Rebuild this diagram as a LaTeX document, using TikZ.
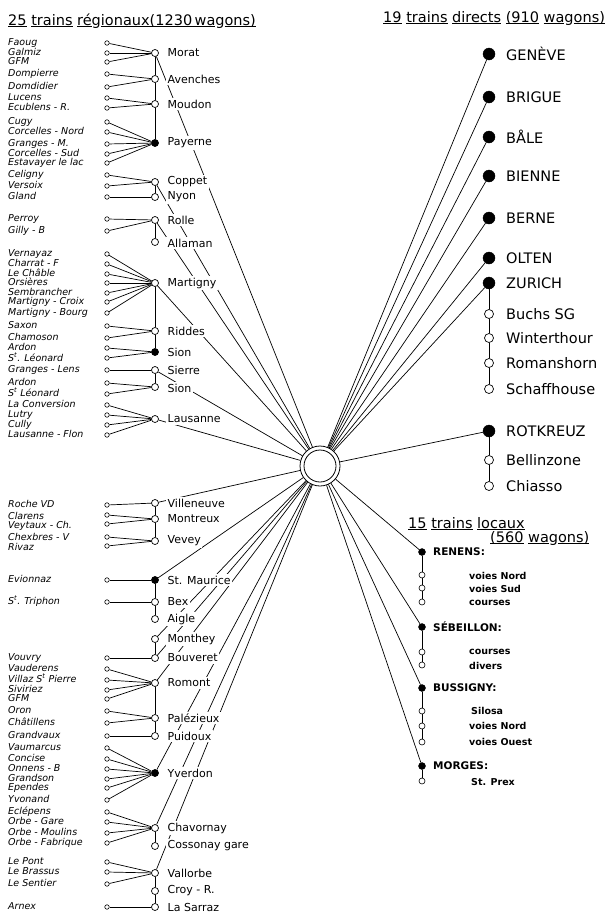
\documentclass[tikz,border=0pt]{standalone}
\usepackage{fontspec}
\setmainfont{DejaVu Sans}
\usetikzlibrary{backgrounds}
\newcommand{\undl}[1]{\underline{\smash{#1}}}
\newcommand{\saint}{S\smash{\textsuperscript{t}}}

\begin{document}
\begin{tikzpicture}
			[x=1pt,y=-1pt,every node/.style={inner sep=0pt},
			stn/.style={circle,draw,fill=white,minimum size=4.5pt,line width=0.6pt},
			hub/.style={circle,draw,fill=white,minimum size=7pt,line width=0.7pt},
			hubf/.style={hub,fill=black},
			dir/.style={circle,draw,fill=black,minimum size=12pt},
			diro/.style={circle,draw,fill=white,minimum size=9pt,line width=0.7pt},
			loc/.style={circle,draw,fill=black,minimum size=7pt},
			loco/.style={circle,draw,fill=white,minimum size=6pt,line width=0.6pt},
			lbl/.style={anchor=west,text height=6pt,text depth=1.5pt,font=\fontsize{9.5}{10}\selectfont\itshape},
			town/.style={anchor=west,fill=white,inner sep=1.5pt,font=\fontsize{11}{12}\selectfont},
			city/.style={anchor=west,font=\fontsize{14.5}{15}\selectfont},
			lname/.style={anchor=west,font=\fontsize{10.5}{11}\selectfont\bfseries},
			lsub/.style={anchor=west,font=\fontsize{9.5}{10}\selectfont\bfseries},
			head/.style={anchor=base west,font=\fontsize{14.5}{15}\selectfont},
			edge/.style={line width=0.7pt}]
			\useasboundingbox (0,0) rectangle (605,916);
			
			% titles
			\node[head] (tregio) at (8,25) {\undl{25} \undl{trains} \undl{ré}g\undl{ionaux(1230\,wa}g\undl{ons)}};
			\node[head] (tdirect) at (383,22) {\undl{19} \undl{trains} \undl{directs} \undl{(910} \undl{wa}g\undl{ons)}};
			\node[head] (tlocal) at (408,528) {\undl{15} \undl{trains} \undl{locaux}};
			\node[head] (tlocalw) at (490,542) {\undl{(560} \undl{wa}g\undl{ons)}};
			
			% centre
			\node[circle,draw,fill=white,minimum size=40pt,line width=0.8pt] (ctr) at (320,466) {};
			\node[circle,draw,minimum size=32pt,line width=0.8pt] (ctri) at (320,466) {};
			
			% trains regionaux, nord
			\node[hub] (morat) at (155,53) {};
			\node[hub] (avenches) at (155,79) {};
			\node[hub] (moudon) at (155,104) {};
			\node[hubf] (payerne) at (155,143) {};
			\node[hub] (coppet) at (155,182) {};
			\node[hub] (nyon) at (155,197) {};
			\node[hub] (rolle) at (155,220) {};
			\node[hub] (allaman) at (155,242) {};
			\node[hub] (martigny) at (155,283) {};
			\node[hub] (riddes) at (155,331) {};
			\node[hubf] (sion) at (155,352) {};
			\node[hub] (sierre) at (155,370) {};
			\node[hub] (sionb) at (155,387) {};
			\node[hub] (lausanne) at (155,419) {};
			
			\node[town] (morat-t) at (166,53) {Morat};
			\node[town] (avenches-t) at (166,79) {Avenches};
			\node[town] (moudon-t) at (166,104) {Moudon};
			\node[town] (payerne-t) at (166,143) {Payerne};
			\node[town] (coppet-t) at (166,182) {Coppet};
			\node[town] (nyon-t) at (166,197) {Nyon};
			\node[town] (rolle-t) at (166,220) {Rolle};
			\node[town] (allaman-t) at (166,243) {Allaman};
			\node[town] (martigny-t) at (166,283) {Martigny};
			\node[town] (riddes-t) at (166,331) {Riddes};
			\node[town] (sion-t) at (166,352) {Sion};
			\node[town] (sierre-t) at (166,370) {Sierre};
			\node[town] (sionb-t) at (166,388) {Sion};
			\node[town] (lausanne-t) at (166,419) {Lausanne};
			
			\node[stn] (faoug) at (107,43) {}; \node[lbl] (faoug-t) at (8,43) {Faoug};
			\node[stn] (galmiz) at (107,53) {}; \node[lbl] (galmiz-t) at (8,53) {Galmiz};
			\node[stn] (gfm) at (107,62) {}; \node[lbl] (gfm-t) at (8,62) {GFM};
			\node[stn] (dompierre) at (107,74) {}; \node[lbl] (dompierre-t) at (8,74) {Dompierre};
			\node[stn] (domdidier) at (107,87) {}; \node[lbl] (domdidier-t) at (8,87) {Domdidier};
			\node[stn] (lucens) at (107,98) {}; \node[lbl] (lucens-t) at (8,98) {Lucens};
			\node[stn] (ecublens) at (107,108) {}; \node[lbl] (ecublens-t) at (8,108) {Ecublens - R.};
			\node[stn] (cugy) at (107,122) {}; \node[lbl] (cugy-t) at (8,122) {Cugy};
			\node[stn] (corcn) at (107,132) {}; \node[lbl] (corcn-t) at (8,132) {Corcelles - Nord};
			\node[stn] (grangesm) at (107,144) {}; \node[lbl] (grangesm-t) at (8,144) {Granges - M.};
			\node[stn] (corcs) at (107,154) {}; \node[lbl] (corcs-t) at (8,154) {Corcelles - Sud};
			\node[stn] (estavayer) at (107,163) {}; \node[lbl] (estavayer-t) at (8,163) {Estavayer le lac};
			\node[stn] (celigny) at (107,175) {}; \node[lbl] (celigny-t) at (8,175) {Celigny};
			\node[stn] (versoix) at (107,186) {}; \node[lbl] (versoix-t) at (8,186) {Versoix};
			\node[stn] (gland) at (107,197) {}; \node[lbl] (gland-t) at (8,197) {Gland};
			\node[stn] (perroy) at (107,219) {}; \node[lbl] (perroy-t) at (8,219) {Perroy};
			\node[stn] (gilly) at (107,231) {}; \node[lbl] (gilly-t) at (8,231) {Gilly - B};
			\node[stn] (vernayaz) at (107,254) {}; \node[lbl] (vernayaz-t) at (8,254) {Vernayaz};
			\node[stn] (charrat) at (107,264) {}; \node[lbl] (charrat-t) at (8,264) {Charrat - F};
			\node[stn] (chable) at (107,274) {}; \node[lbl] (chable-t) at (8,274) {Le Châble};
			\node[stn] (orsieres) at (107,283) {}; \node[lbl] (orsieres-t) at (8,283) {Orsières};
			\node[stn] (sembrancher) at (107,293) {}; \node[lbl] (sembrancher-t) at (8,293) {Sembrancher};
			\node[stn] (mcroix) at (107,302) {}; \node[lbl] (mcroix-t) at (8,302) {Martigny - Croix};
			\node[stn] (mbourg) at (107,313) {}; \node[lbl] (mbourg-t) at (8,313) {Martigny - Bourg};
			\node[stn] (saxon) at (107,326) {}; \node[lbl] (saxon-t) at (8,326) {Saxon};
			\node[stn] (chamoson) at (107,338) {}; \node[lbl] (chamoson-t) at (8,338) {Chamoson};
			\node[stn] (ardon) at (107,348) {}; \node[lbl] (ardon-t) at (8,348) {Ardon};
			\node[stn] (stleonard) at (107,358) {}; \node[lbl] (stleonard-t) at (8,359) {\saint. Léonard};
			\node[stn] (granges) at (107,370) {}; \node[lbl] (granges-t) at (8,370) {Granges - Lens};
			\node[stn] (ardonb) at (107,383) {}; \node[lbl] (ardonb-t) at (8,383) {Ardon};
			\node[stn] (stleonardb) at (107,394) {}; \node[lbl] (stleonardb-t) at (8,394) {\saint\ Léonard};
			\node[stn] (conversion) at (107,405) {}; \node[lbl] (conversion-t) at (8,405) {La Conversion};
			\node[stn] (lutry) at (107,415) {}; \node[lbl] (lutry-t) at (8,415) {Lutry};
			\node[stn] (cully) at (107,425) {}; \node[lbl] (cully-t) at (8,425) {Cully};
			\node[stn] (flon) at (107,435) {}; \node[lbl] (flon-t) at (8,435) {Lausanne - Flon};
			
			% trains regionaux, sud
			\node[hub] (villeneuve) at (155,503) {};
			\node[hub] (montreux) at (155,519) {};
			\node[hub] (vevey) at (155,541) {};
			\node[hubf] (stmaurice) at (155,580) {};
			\node[hub] (bex) at (155,602) {};
			\node[hub] (aigle) at (155,619) {};
			\node[hub] (monthey) at (155,639) {};
			\node[hub] (bouveret) at (155,658) {};
			\node[hub] (romont) at (155,683) {};
			\node[hub] (palezieux) at (155,718) {};
			\node[hub] (puidoux) at (155,736) {};
			\node[hubf] (yverdon) at (155,773) {};
			\node[hub] (chavornay) at (155,828) {};
			\node[hub] (cossonay) at (155,846) {};
			\node[hub] (vallorbe) at (155,873) {};
			\node[hub] (croy) at (155,891) {};
			\node[hub] (lasarraz) at (155,907) {};
			
			\node[town] (villeneuve-t) at (166,503) {Villeneuve};
			\node[town] (montreux-t) at (166,519) {Montreux};
			\node[town] (vevey-t) at (166,541) {Vevey};
			\node[town] (stmaurice-t) at (166,580) {St. Maurice};
			\node[town] (bex-t) at (166,602) {Bex};
			\node[town] (aigle-t) at (166,619) {Aigle};
			\node[town] (monthey-t) at (166,639) {Monthey};
			\node[town] (bouveret-t) at (166,658) {Bouveret};
			\node[town] (romont-t) at (166,683) {Romont};
			\node[town] (palezieux-t) at (166,718) {Palézieux};
			\node[town] (puidoux-t) at (166,736) {Puidoux};
			\node[town] (yverdon-t) at (166,773) {Yverdon};
			\node[town] (chavornay-t) at (166,828) {Chavornay};
			\node[town] (cossonay-t) at (166,846) {Cossonay gare};
			\node[town] (vallorbe-t) at (166,873) {Vallorbe};
			\node[town] (croy-t) at (166,891) {Croy - R.};
			\node[town] (lasarraz-t) at (166,907) {La Sarraz};
			
			\node[stn] (roche) at (107,505) {}; \node[lbl] (roche-t) at (8,505) {Roche VD};
			\node[stn] (clarens) at (107,515) {}; \node[lbl] (clarens-t) at (8,517) {Clarens};
			\node[stn] (veytaux) at (107,524) {}; \node[lbl] (veytaux-t) at (8,526) {Veytaux - Ch.};
			\node[stn] (chexbres) at (107,537) {}; \node[lbl] (chexbres-t) at (8,538) {Chexbres - V};
			\node[stn] (rivaz) at (107,546) {}; \node[lbl] (rivaz-t) at (8,548) {Rivaz};
			\node[stn] (evionnaz) at (107,580) {}; \node[lbl] (evionnaz-t) at (8,580) {Evionnaz};
			\node[stn] (triphon) at (107,602) {}; \node[lbl] (triphon-t) at (8,602) {\saint. Triphon};
			\node[stn] (vouvry) at (107,658) {}; \node[lbl] (vouvry-t) at (8,658) {Vouvry};
			\node[stn] (vauderens) at (107,669) {}; \node[lbl] (vauderens-t) at (8,669) {Vauderens};
			\node[stn] (villaz) at (107,680) {}; \node[lbl] (villaz-t) at (8,680) {Villaz \saint\ Pierre};
			\node[stn] (siviriez) at (107,690) {}; \node[lbl] (siviriez-t) at (8,690) {Siviriez};
			\node[stn] (gfmb) at (107,699) {}; \node[lbl] (gfmb-t) at (8,699) {GFM};
			\node[stn] (oron) at (107,711) {}; \node[lbl] (oron-t) at (8,711) {Oron};
			\node[stn] (chatillens) at (107,723) {}; \node[lbl] (chatillens-t) at (8,723) {Châtillens};
			\node[stn] (grandvaux) at (107,736) {}; \node[lbl] (grandvaux-t) at (8,736) {Grandvaux};
			\node[stn] (vaumarcus) at (107,748) {}; \node[lbl] (vaumarcus-t) at (8,748) {Vaumarcus};
			\node[stn] (concise) at (107,759) {}; \node[lbl] (concise-t) at (8,759) {Concise};
			\node[stn] (onnens) at (107,769) {}; \node[lbl] (onnens-t) at (8,769) {Onnens - B};
			\node[stn] (grandson) at (107,779) {}; \node[lbl] (grandson-t) at (8,779) {Grandson};
			\node[stn] (ependes) at (107,788) {}; \node[lbl] (ependes-t) at (8,788) {Ependes};
			\node[stn] (yvonand) at (107,800) {}; \node[lbl] (yvonand-t) at (8,800) {Yvonand};
			\node[stn] (eclepens) at (107,812) {}; \node[lbl] (eclepens-t) at (8,812) {Eclépens};
			\node[stn] (orbegare) at (107,822) {}; \node[lbl] (orbegare-t) at (8,822) {Orbe - Gare};
			\node[stn] (orbemoulins) at (107,833) {}; \node[lbl] (orbemoulins-t) at (8,833) {Orbe - Moulins};
			\node[stn] (orbefab) at (107,843) {}; \node[lbl] (orbefab-t) at (8,843) {Orbe - Fabrique};
			\node[stn] (lepont) at (107,862) {}; \node[lbl] (lepont-t) at (8,862) {Le Pont};
			\node[stn] (brassus) at (107,872) {}; \node[lbl] (brassus-t) at (8,872) {Le Brassus};
			\node[stn] (sentier) at (107,884) {}; \node[lbl] (sentier-t) at (8,884) {Le Sentier};
			\node[stn] (arnex) at (107,907) {}; \node[lbl] (arnex-t) at (8,907) {Arnex};
			
			% trains directs
			\node[dir] (geneve) at (489,54) {}; \node[city] (geneve-t) at (506,54) {GENÈVE};
			\node[dir] (brigue) at (489,97) {}; \node[city] (brigue-t) at (506,97) {BRIGUE};
			\node[dir] (bale) at (489,137) {}; \node[city] (bale-t) at (506,137) {BÅLE};
			\node[dir] (bienne) at (489,176) {}; \node[city] (bienne-t) at (506,176) {BIENNE};
			\node[dir] (berne) at (489,218) {}; \node[city] (berne-t) at (506,218) {BERNE};
			\node[dir] (olten) at (489,258) {}; \node[city] (olten-t) at (506,258) {OLTEN};
			\node[dir] (zurich) at (489,283) {}; \node[city] (zurich-t) at (506,283) {ZURICH};
			\node[diro] (buchs) at (489,314) {}; \node[city] (buchs-t) at (506,314) {Buchs SG};
			\node[diro] (winterthour) at (489,338) {}; \node[city] (winterthour-t) at (506,338) {Winterthour};
			\node[diro] (romanshorn) at (489,363) {}; \node[city] (romanshorn-t) at (506,363) {Romanshorn};
			\node[diro] (schaffhouse) at (489,389) {}; \node[city] (schaffhouse-t) at (506,389) {Schaffhouse};
			\node[dir] (rotkreuz) at (489,431) {}; \node[city] (rotkreuz-t) at (506,431) {ROTKREUZ};
			\node[diro] (bellinzone) at (489,460) {}; \node[city] (bellinzone-t) at (506,460) {Bellinzone};
			\node[diro] (chiasso) at (489,486) {}; \node[city] (chiasso-t) at (506,486) {Chiasso};
			
			% trains locaux
			\node[loc] (renens) at (422,552) {}; \node[lname] (renens-t) at (433,552) {RENENS:};
			\node[loco] (renens1) at (422,575) {}; \node[lsub] (renens1-t) at (469,576) {voies Nord};
			\node[loco] (renens2) at (422,588) {}; \node[lsub] (renens2-t) at (469,589) {voies Sud};
			\node[loco] (renens3) at (422,602) {}; \node[lsub] (renens3-t) at (469,603) {courses};
			\node[loc] (sebeillon) at (422,627) {}; \node[lname] (sebeillon-t) at (433,627) {SÉBEILLON:};
			\node[loco] (sebeillon1) at (422,652) {}; \node[lsub] (sebeillon1-t) at (469,652) {courses};
			\node[loco] (sebeillon2) at (422,665) {}; \node[lsub] (sebeillon2-t) at (469,666) {divers};
			\node[loc] (bussigny) at (422,688) {}; \node[lname] (bussigny-t) at (433,688) {BUSSIGNY:};
			\node[loco] (bussigny1) at (422,711) {}; \node[lsub] (bussigny1-t) at (471,711) {Silosa};
			\node[loco] (bussigny2) at (422,726) {}; \node[lsub] (bussigny2-t) at (469,726) {voies Nord};
			\node[loco] (bussigny3) at (422,742) {}; \node[lsub] (bussigny3-t) at (469,742) {voies Ouest};
			\node[loc] (morges) at (422,766) {}; \node[lname] (morges-t) at (433,766) {MORGES:};
			\node[loco] (morges1) at (422,781) {}; \node[lsub] (morges1-t) at (471,782) {St. Prex};
			
			\begin{pgfonlayer}{background}
			\fill[white] (0,0) rectangle (605,916);
			% feeders
			\draw[edge] (faoug) -- (morat); \draw[edge] (galmiz) -- (morat); \draw[edge] (gfm) -- (morat);
			\draw[edge] (dompierre) -- (avenches); \draw[edge] (domdidier) -- (avenches);
			\draw[edge] (lucens) -- (moudon); \draw[edge] (ecublens) -- (moudon);
			\draw[edge] (cugy) -- (payerne); \draw[edge] (corcn) -- (payerne); \draw[edge] (grangesm) -- (payerne);
			\draw[edge] (corcs) -- (payerne); \draw[edge] (estavayer) -- (payerne);
			\draw[edge] (celigny) -- (coppet); \draw[edge] (versoix) -- (coppet);
			\draw[edge] (gland) -- (nyon);
			\draw[edge] (perroy) -- (rolle); \draw[edge] (gilly) -- (rolle);
			\draw[edge] (vernayaz) -- (martigny); \draw[edge] (charrat) -- (martigny); \draw[edge] (chable) -- (martigny);
			\draw[edge] (orsieres) -- (martigny); \draw[edge] (sembrancher) -- (martigny); \draw[edge] (mcroix) -- (martigny);
			\draw[edge] (mbourg) -- (martigny);
			\draw[edge] (saxon) -- (riddes); \draw[edge] (chamoson) -- (riddes);
			\draw[edge] (ardon) -- (sion); \draw[edge] (stleonard) -- (sion);
			\draw[edge] (granges) -- (sierre);
			\draw[edge] (ardonb) -- (sionb); \draw[edge] (stleonardb) -- (sionb);
			\draw[edge] (conversion) -- (lausanne); \draw[edge] (lutry) -- (lausanne); \draw[edge] (cully) -- (lausanne);
			\draw[edge] (flon) -- (lausanne);
			\draw[edge] (roche) -- (villeneuve);
			\draw[edge] (clarens) -- (montreux); \draw[edge] (veytaux) -- (montreux);
			\draw[edge] (chexbres) -- (vevey); \draw[edge] (rivaz) -- (vevey);
			\draw[edge] (evionnaz) -- (stmaurice);
			\draw[edge] (triphon) -- (bex);
			\draw[edge] (vouvry) -- (bouveret);
			\draw[edge] (vauderens) -- (romont); \draw[edge] (villaz) -- (romont); \draw[edge] (siviriez) -- (romont);
			\draw[edge] (gfmb) -- (romont);
			\draw[edge] (oron) -- (palezieux); \draw[edge] (chatillens) -- (palezieux);
			\draw[edge] (grandvaux) -- (puidoux);
			\draw[edge] (vaumarcus) -- (yverdon); \draw[edge] (concise) -- (yverdon); \draw[edge] (onnens) -- (yverdon);
			\draw[edge] (grandson) -- (yverdon); \draw[edge] (ependes) -- (yverdon); \draw[edge] (yvonand) -- (yverdon);
			\draw[edge] (eclepens) -- (chavornay); \draw[edge] (orbegare) -- (chavornay); \draw[edge] (orbemoulins) -- (chavornay);
			\draw[edge] (orbefab) -- (chavornay);
			\draw[edge] (lepont) -- (vallorbe); \draw[edge] (brassus) -- (vallorbe); \draw[edge] (sentier) -- (vallorbe);
			\draw[edge] (arnex) -- (lasarraz);
			% lignes
			\draw[edge] (morat) -- (avenches) -- (moudon) -- (payerne);
			\draw[edge] (coppet) -- (nyon);
			\draw[edge] (rolle) -- (allaman);
			\draw[edge] (martigny) -- (riddes) -- (sion);
			\draw[edge] (sierre) -- (sionb);
			\draw[edge] (villeneuve) -- (montreux) -- (vevey);
			\draw[edge] (stmaurice) -- (bex) -- (aigle);
			\draw[edge] (monthey) -- (bouveret);
			\draw[edge] (romont) -- (palezieux) -- (puidoux);
			\draw[edge] (chavornay) -- (cossonay);
			\draw[edge] (vallorbe) -- (croy) -- (lasarraz);
			\draw[edge] (zurich) -- (buchs) -- (winterthour) -- (romanshorn) -- (schaffhouse);
			\draw[edge] (rotkreuz) -- (bellinzone) -- (chiasso);
			\draw[edge] (renens) -- (renens1) -- (renens2) -- (renens3);
			\draw[edge] (sebeillon) -- (sebeillon1) -- (sebeillon2);
			\draw[edge] (bussigny) -- (bussigny1) -- (bussigny2) -- (bussigny3);
			\draw[edge] (morges) -- (morges1);
			% vers le centre
			\draw[edge] (morat) -- (ctr); \draw[edge] (coppet) -- (ctr); \draw[edge] (rolle) -- (ctr);
			\draw[edge] (martigny) -- (ctr); \draw[edge] (sierre) -- (ctr); \draw[edge] (lausanne) -- (ctr);
			\draw[edge] (villeneuve) -- (ctr); \draw[edge] (stmaurice) -- (ctr); \draw[edge] (monthey) -- (ctr);
			\draw[edge] (bouveret) -- (ctr); \draw[edge] (romont) -- (ctr); \draw[edge] (yverdon) -- (ctr);
			\draw[edge] (chavornay) -- (ctr); \draw[edge] (vallorbe) -- (ctr);
			\draw[edge] (geneve) -- (ctr); \draw[edge] (brigue) -- (ctr); \draw[edge] (bale) -- (ctr);
			\draw[edge] (bienne) -- (ctr); \draw[edge] (berne) -- (ctr); \draw[edge] (olten) -- (ctr);
			\draw[edge] (zurich) -- (ctr); \draw[edge] (rotkreuz) -- (ctr);
			\draw[edge] (renens) -- (ctr); \draw[edge] (sebeillon) -- (ctr); \draw[edge] (bussigny) -- (ctr);
			\draw[edge] (morges) -- (ctr);
			\end{pgfonlayer}
			\end{tikzpicture}
\end{document}
